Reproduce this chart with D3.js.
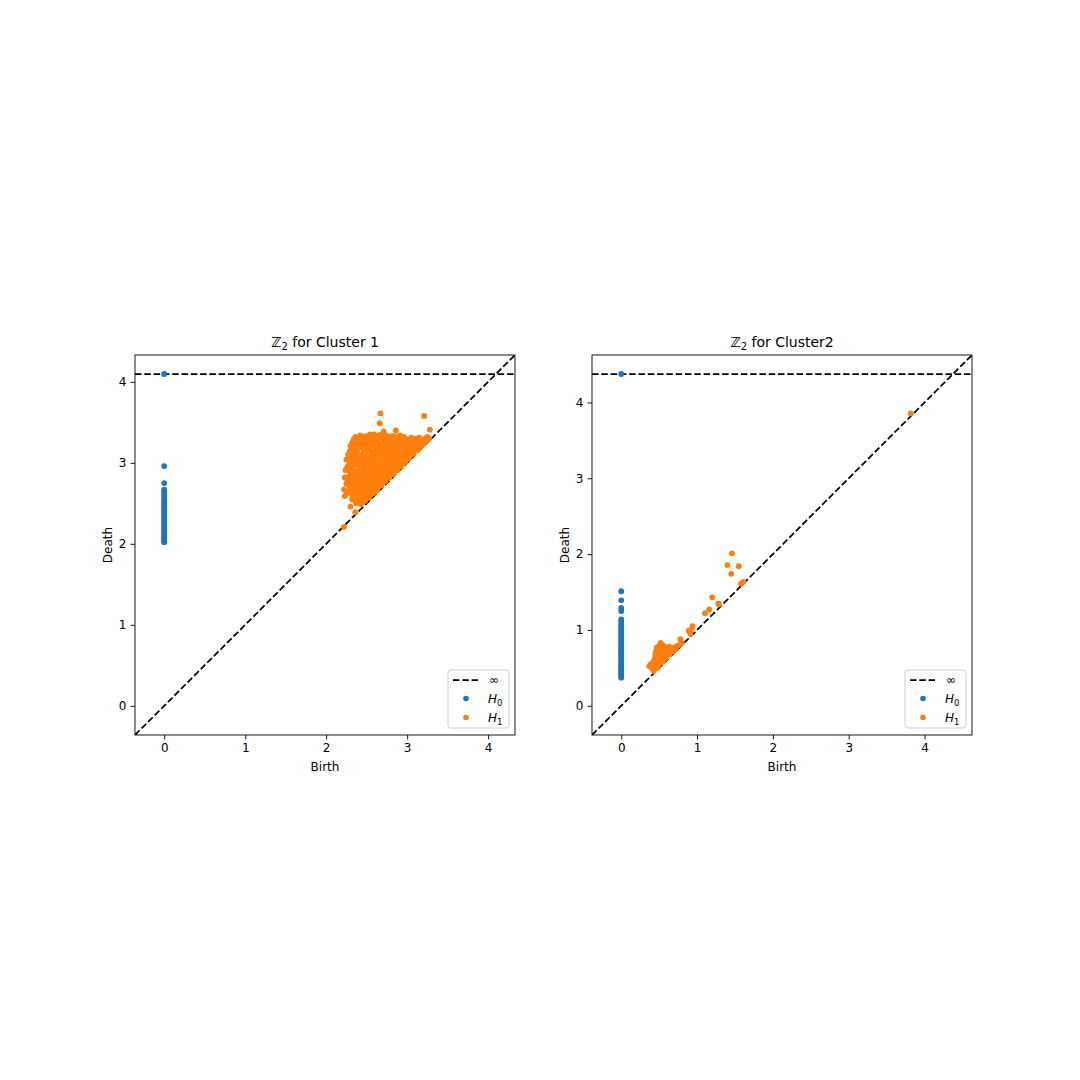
<!DOCTYPE html>
<html>
<head>
<meta charset="utf-8">
<script src="https://cdn.jsdelivr.net/npm/d3@7"></script>
<style>
  html, body { margin: 0; padding: 0; background: #fff; }
  svg { display: block; font-family: "DejaVu Sans", sans-serif; }
</style>
</head>
<body>
<svg id="chart" width="1080" height="1080"></svg>
<script>
// ---------- data ----------
const tickValues = [0, 1, 2, 3, 4];
const panelTitles = ["Cluster 1", "Cluster2"];
const seriesNames = ["H0", "H1"];
const seriesColors = ["#1f77b4", "#ff7f0e"];

// Cluster 1: H0 (birth always 0) deaths
const c1H0Deaths = [2.02,2.03,2.05,2.06,2.08,2.10,2.11,2.13,2.15,2.17,2.19,2.21,2.23,2.25,2.27,2.29,2.31,2.33,2.35,2.37,2.39,2.41,2.43,2.45,2.47,2.49,2.51,2.53,2.55,2.57,2.60,2.62,2.65,2.67,2.75,2.96,Infinity];
// Cluster 1: H1 [birth, death]
const c1H1 = [
[2.22,2.21],[2.30,2.46],[2.36,2.39],[2.32,2.55],
[2.23,2.59],[2.22,2.67],[2.25,2.74],[2.23,2.82],[2.24,2.91],[2.25,3.04],[2.27,3.10],
[2.28,2.63],[2.29,2.71],[2.27,2.80],[2.30,2.88],[2.28,2.97],[2.30,3.06],[2.31,3.17],[2.32,3.25],
[2.33,2.60],[2.34,2.68],[2.32,2.76],[2.35,2.84],[2.33,2.93],[2.34,3.01],[2.35,3.13],[2.36,3.32],
[2.37,2.50],[2.38,2.58],[2.39,2.66],[2.37,2.73],[2.40,2.81],[2.38,2.89],[2.39,2.98],[2.41,3.07],[2.38,3.16],[2.40,3.24],[2.42,3.34],
[2.43,2.49],[2.44,2.56],[2.43,2.64],[2.45,2.71],[2.42,2.78],[2.44,2.86],[2.46,2.94],[2.43,3.02],[2.45,3.10],[2.44,3.19],[2.46,3.28],
[2.48,2.53],[2.47,2.60],[2.49,2.68],[2.48,2.76],[2.50,2.83],[2.47,2.91],[2.49,2.99],[2.51,3.06],[2.48,3.14],[2.50,3.22],[2.49,3.31],
[2.53,2.57],[2.52,2.65],[2.54,2.72],[2.53,2.80],[2.55,2.88],[2.52,2.96],[2.54,3.04],[2.56,3.12],[2.53,3.20],[2.55,3.27],[2.54,3.35],
[2.58,2.62],[2.57,2.69],[2.59,2.77],[2.58,2.85],[2.60,2.93],[2.57,3.01],[2.59,3.09],[2.61,3.17],[2.58,3.25],[2.60,3.32],
[2.63,2.66],[2.62,2.74],[2.64,2.82],[2.63,2.90],[2.65,2.98],[2.62,3.06],[2.64,3.14],[2.66,3.22],[2.63,3.30],[2.66,3.49],[2.67,3.61],
[2.68,2.72],[2.67,2.79],[2.69,2.87],[2.68,2.95],[2.70,3.03],[2.67,3.11],[2.69,3.19],[2.71,3.27],[2.68,3.35],[2.71,3.39],
[2.73,2.77],[2.72,2.84],[2.74,2.92],[2.73,3.00],[2.75,3.08],[2.72,3.16],[2.74,3.24],[2.76,3.31],
[2.78,2.82],[2.77,2.89],[2.79,2.97],[2.78,3.05],[2.80,3.13],[2.77,3.21],[2.79,3.29],
[2.83,2.86],[2.82,2.94],[2.84,3.02],[2.83,3.10],[2.85,3.18],[2.82,3.26],[2.86,3.40],[2.84,3.33],
[2.88,2.91],[2.87,2.99],[2.89,3.07],[2.88,3.15],[2.90,3.23],[2.89,3.31],
[2.93,2.96],[2.92,3.04],[2.94,3.12],[2.93,3.20],[2.95,3.28],
[2.98,3.01],[2.97,3.09],[2.99,3.17],[3.00,3.25],
[3.03,3.06],[3.02,3.14],[3.04,3.22],[3.05,3.31],
[3.08,3.11],[3.07,3.19],[3.10,3.27],
[3.13,3.16],[3.12,3.23],[3.15,3.31],
[3.18,3.21],[3.19,3.28],[3.21,3.58],
[3.23,3.26],[3.25,3.32],[3.27,3.30],[3.28,3.41],
[2.25,2.63],[2.26,2.78],[2.26,2.95],[2.29,3.14],
[2.31,2.67],[2.30,2.84],[2.31,3.01],[2.33,3.20],[2.34,3.29],
[2.35,2.54],[2.36,2.72],[2.36,2.89],[2.37,3.06],[2.37,3.22],
[2.40,2.54],[2.41,2.70],[2.41,2.85],[2.42,3.02],[2.42,3.20],[2.40,3.31],
[2.45,2.52],[2.46,2.67],[2.45,2.82],[2.46,2.98],[2.47,3.14],[2.47,3.32],
[2.50,2.57],[2.51,2.72],[2.50,2.87],[2.52,3.02],[2.52,3.18],[2.51,3.27],
[2.55,2.61],[2.56,2.76],[2.55,2.92],[2.57,3.08],[2.56,3.23],[2.57,3.34],
[2.60,2.66],[2.61,2.81],[2.60,2.97],[2.62,3.13],[2.61,3.28],
[2.65,2.71],[2.66,2.86],[2.65,3.02],[2.67,3.18],[2.65,3.34],
[2.70,2.76],[2.71,2.91],[2.70,3.07],[2.72,3.23],[2.70,3.31],
[2.75,2.81],[2.76,2.96],[2.75,3.12],[2.77,3.28],
[2.80,2.86],[2.81,3.01],[2.80,3.17],[2.81,3.33],
[2.85,2.90],[2.86,3.06],[2.85,3.22],
[2.90,2.95],[2.91,3.11],[2.91,3.27],
[2.95,3.00],[2.96,3.16],[2.96,3.32],
[3.00,3.05],[3.01,3.21],
[3.05,3.10],[3.06,3.26],
[3.10,3.15],[3.11,3.30],
[3.15,3.19],[3.17,3.26],
[3.20,3.24],[3.22,3.30],
[2.29,2.67],[2.30,2.75],[2.29,2.84],[2.30,2.92],[2.29,3.01],[2.31,3.11],[2.30,3.21],
[2.34,2.64],[2.35,2.72],[2.34,2.80],[2.35,2.88],[2.34,2.97],[2.36,3.07],[2.35,3.19],[2.36,3.27],
[2.39,2.54],[2.40,2.62],[2.39,2.70],[2.40,2.77],[2.39,2.85],[2.41,2.93],[2.40,3.02],[2.39,3.11],[2.41,3.20],[2.39,3.28],
[2.44,2.53],[2.45,2.60],[2.44,2.68],[2.45,2.75],[2.44,2.82],[2.46,2.90],[2.45,2.98],[2.44,3.06],[2.46,3.14],[2.45,3.23],[2.44,3.31],
[2.49,2.56],[2.50,2.64],[2.49,2.72],[2.50,2.80],[2.49,2.87],[2.51,2.95],[2.50,3.03],[2.49,3.10],[2.51,3.18],[2.50,3.26],[2.49,3.33],
[2.54,2.61],[2.55,2.69],[2.54,2.76],[2.55,2.84],[2.54,2.92],[2.56,3.00],[2.55,3.08],[2.54,3.16],[2.56,3.24],[2.55,3.31],
[2.59,2.66],[2.60,2.73],[2.59,2.81],[2.60,2.89],[2.59,2.97],[2.61,3.05],[2.60,3.13],[2.59,3.21],[2.61,3.29],[2.59,3.35],
[2.64,2.70],[2.65,2.78],[2.64,2.86],[2.65,2.94],[2.64,3.02],[2.66,3.10],[2.65,3.18],[2.64,3.26],[2.66,3.33],
[2.69,2.75],[2.70,2.83],[2.69,2.91],[2.70,2.99],[2.69,3.07],[2.71,3.15],[2.70,3.23],[2.69,3.31],
[2.74,2.80],[2.75,2.88],[2.74,2.96],[2.75,3.04],[2.74,3.12],[2.76,3.20],[2.75,3.28],[2.74,3.34],
[2.79,2.85],[2.80,2.93],[2.79,3.01],[2.80,3.09],[2.79,3.17],[2.81,3.25],[2.80,3.32],
[2.84,2.90],[2.85,2.98],[2.84,3.06],[2.85,3.14],[2.84,3.22],[2.86,3.30],
[2.89,2.95],[2.90,3.03],[2.89,3.11],[2.90,3.19],[2.89,3.27],[2.91,3.34],
[2.94,3.00],[2.95,3.08],[2.94,3.16],[2.95,3.24],[2.94,3.31],
[2.99,3.05],[3.00,3.13],[2.99,3.21],[3.00,3.29],
[3.04,3.10],[3.05,3.18],[3.04,3.27],
[3.09,3.15],[3.10,3.23],
[3.14,3.20],[3.15,3.27],
[3.19,3.25]
];

// Cluster 2: H0 deaths
const c2H0Deaths = [0.37,0.39,0.41,0.43,0.45,0.47,0.50,0.52,0.54,0.56,0.59,0.61,0.63,0.66,0.68,0.70,0.72,0.75,0.77,0.80,0.82,0.85,0.87,0.90,0.92,0.95,0.97,1.00,1.02,1.05,1.08,1.11,1.14,1.25,1.29,1.39,1.51,Infinity];
// Cluster 2: H1 [birth, death]
const c2H1 = [
[0.37,0.52],[0.39,0.55],[0.41,0.49],[0.42,0.58],[0.43,0.46],[0.44,0.62],[0.45,0.53],[0.45,0.68],
[0.46,0.72],[0.47,0.57],[0.47,0.77],[0.48,0.50],[0.49,0.64],[0.50,0.79],[0.50,0.55],[0.51,0.70],
[0.52,0.83],[0.52,0.60],[0.53,0.75],[0.54,0.66],[0.55,0.58],[0.55,0.80],[0.56,0.71],[0.57,0.62],
[0.58,0.77],[0.59,0.67],[0.60,0.64],[0.61,0.74],[0.62,0.70],[0.63,0.78],[0.64,0.68],[0.66,0.73],
[0.67,0.76],[0.68,0.72],[0.70,0.77],[0.72,0.75],[0.74,0.79],[0.76,0.80],[0.78,0.88],[0.80,0.83],
[0.89,0.99],[0.91,0.95],[0.94,1.05],[0.92,1.00],[1.105,1.22],[1.16,1.27],[1.20,1.43],[1.28,1.35],
[1.29,1.34],[1.40,1.855],[1.46,2.01],[1.45,1.74],[1.55,1.84],[1.58,1.61],[1.61,1.635],[3.82,3.855]
];

// ---------- drawing ----------
const svg = d3.select("#chart");
const FONT = "DejaVu Sans, sans-serif";

function drawPanel(left, title, h0Deaths, h1Pairs) {
  const top = 355, size = 380;
  const h0 = h0Deaths.map(d => [0, d]);
  // persim-style limits from the data
  const finite = [].concat(...h0, ...h1Pairs).filter(v => isFinite(v));
  const axMin = d3.min(finite), axMax = d3.max(finite);
  const buffer = (axMax - axMin) / 5;
  const lo = axMin - buffer / 2, hi = axMax + buffer;
  const bInf = lo + (hi - lo) * 0.95;

  const x = d3.scaleLinear().domain([lo, hi]).range([left, left + size]);
  const y = d3.scaleLinear().domain([lo, hi]).range([top + size, top]);

  const g = svg.append("g");

  const clipId = "clip" + Math.round(left);
  svg.append("defs").append("clipPath").attr("id", clipId)
    .append("rect").attr("x", left).attr("y", top).attr("width", size).attr("height", size);
  const plot = g.append("g").attr("clip-path", `url(#${clipId})`);

  // diagonal
  plot.append("line")
    .attr("x1", x(lo)).attr("y1", y(lo)).attr("x2", x(hi)).attr("y2", y(hi))
    .attr("stroke", "#000").attr("stroke-width", 1.75).attr("stroke-dasharray", "6.5,2.8");
  // infinity line
  plot.append("line")
    .attr("x1", x(lo)).attr("y1", y(bInf)).attr("x2", x(hi)).attr("y2", y(bInf))
    .attr("stroke", "#000").attr("stroke-width", 1.75).attr("stroke-dasharray", "6.5,2.8");

  // points
  const series = [h0, h1Pairs];
  series.forEach((pts, i) => {
    plot.append("g").selectAll("circle").data(pts).enter().append("circle")
      .attr("cx", d => x(d[0]))
      .attr("cy", d => y(isFinite(d[1]) ? d[1] : bInf))
      .attr("r", 2.9)
      .attr("fill", seriesColors[i]);
  });

  // axes
  const xAxis = d3.axisBottom(x).tickValues(tickValues).tickFormat(d3.format("d")).tickSize(4.5).tickPadding(4);
  const yAxis = d3.axisLeft(y).tickValues(tickValues).tickFormat(d3.format("d")).tickSize(4.5).tickPadding(4);
  const gx = g.append("g").attr("transform", `translate(0,${top + size})`).call(xAxis);
  const gy = g.append("g").attr("transform", `translate(${left},0)`).call(yAxis);
  [gx, gy].forEach(a => {
    a.select(".domain").remove();
    a.selectAll("text").attr("font-family", FONT).attr("font-size", 12).attr("fill", "#000");
    a.selectAll("line").attr("stroke", "#000").attr("stroke-width", 0.9);
  });

  // frame
  g.append("rect").attr("x", left).attr("y", top).attr("width", size).attr("height", size)
    .attr("fill", "none").attr("stroke", "#000").attr("stroke-width", 0.9);

  // title
  const t = g.append("text").attr("x", left + size / 2).attr("y", top - 8)
    .attr("text-anchor", "middle").attr("font-family", FONT).attr("font-size", 14).attr("fill", "#000");
  t.append("tspan").text("ℤ");
  t.append("tspan").text("2").attr("font-size", 10).attr("dy", 3);
  t.append("tspan").text(" for " + title).attr("dy", -3);

  // axis labels
  g.append("text").attr("x", left + size / 2).attr("y", top + size + 36)
    .attr("text-anchor", "middle").attr("font-family", FONT).attr("font-size", 12).text("Birth");
  g.append("text").attr("transform", `translate(${left - 23},${top + size / 2}) rotate(-90)`)
    .attr("text-anchor", "middle").attr("font-family", FONT).attr("font-size", 12).text("Death");

  // legend
  const lw = 61, lh = 58;
  const lx = left + size - 6 - lw, ly = top + size - 7 - lh;
  const lg = g.append("g");
  lg.append("rect").attr("x", lx).attr("y", ly).attr("width", lw).attr("height", lh)
    .attr("rx", 3).attr("fill", "#fff").attr("fill-opacity", 0.8)
    .attr("stroke", "#d0d0d0").attr("stroke-width", 1);
  const rowY = [ly + 10, ly + 28.5, ly + 47.5];
  lg.append("line").attr("x1", lx + 5).attr("x2", lx + 30).attr("y1", rowY[0]).attr("y2", rowY[0])
    .attr("stroke", "#000").attr("stroke-width", 1.75).attr("stroke-dasharray", "6.5,2.8");
  lg.append("text").attr("x", lx + 41).attr("y", rowY[0] + 4).attr("font-family", FONT)
    .attr("font-size", 12).text("∞");
  seriesNames.forEach((name, i) => {
    lg.append("circle").attr("cx", lx + 18).attr("cy", rowY[i + 1]).attr("r", 2.8).attr("fill", seriesColors[i]);
    const tt = lg.append("text").attr("x", lx + 40).attr("y", rowY[i + 1] + 4.5)
      .attr("font-family", FONT).attr("font-size", 12);
    tt.append("tspan").text(name[0]).attr("font-style", "italic");
    tt.append("tspan").text(name.slice(1)).attr("font-size", 8.5).attr("dy", 2.5);
  });
}

drawPanel(135, panelTitles[0], c1H0Deaths, c1H1);
drawPanel(592, panelTitles[1], c2H0Deaths, c2H1);
</script>
</body>
</html>
